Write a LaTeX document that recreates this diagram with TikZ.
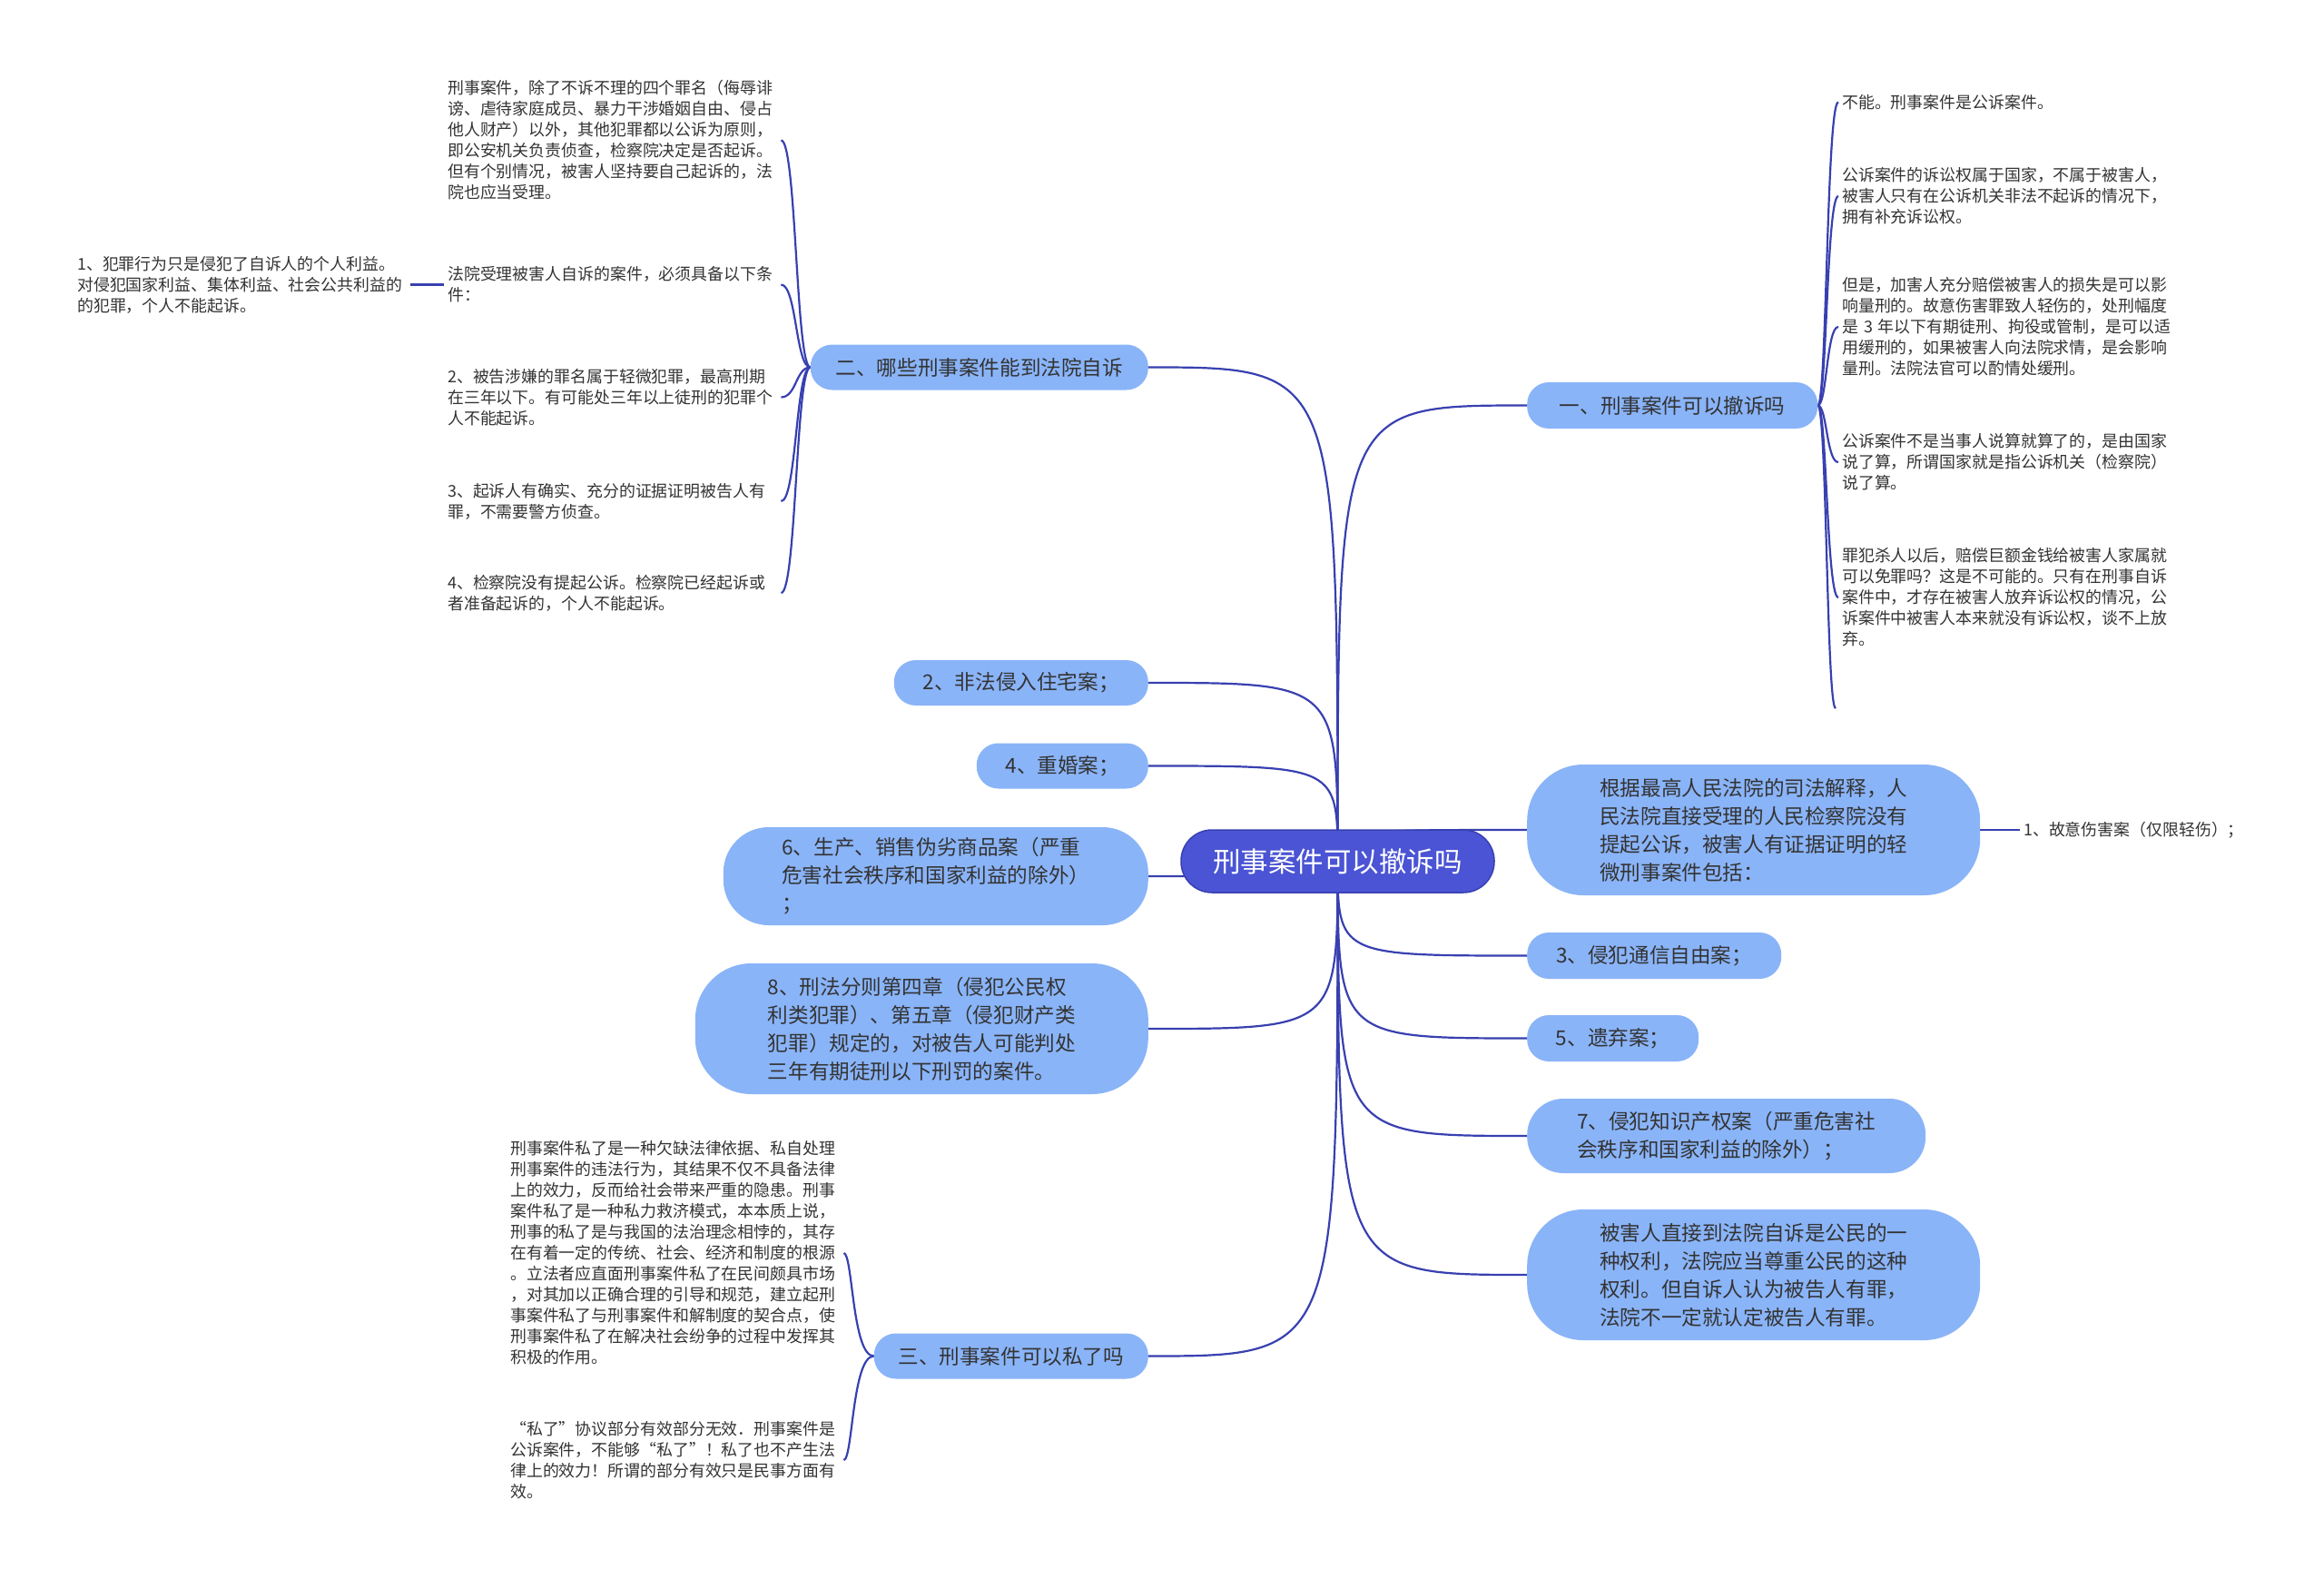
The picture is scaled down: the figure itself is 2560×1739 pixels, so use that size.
\documentclass[tikz,border=0pt]{standalone}
\usepackage{fontspec}
\setmainfont{Noto Sans CJK SC}
\usepackage{xcolor}
\usepackage{tikz}
\usetikzlibrary{backgrounds}
\definecolor{rootblue}{RGB}{74, 84, 212}
\definecolor{linkblue}{RGB}{56, 64, 176}
\definecolor{topicblue}{RGB}{138, 180, 248}
\definecolor{textgray}{RGB}{51, 51, 51}

\begin{document}
\begin{tikzpicture}[x=1pt, y=-1pt]
    % Styles
    \tikzstyle{root} = [rectangle, draw=linkblue, line width=1.5pt, fill=rootblue, text=white, rounded corners=34pt, minimum width=345pt, minimum height=69pt, font=\fontsize{30.5}{36}\selectfont]
    \tikzstyle{topic} = [rectangle, fill=topicblue, text=textgray, rounded corners=24pt, minimum height=50pt, align=left, font=\fontsize{22.6}{31}\selectfont]
    \tikzstyle{leaf} = [text=textgray, align=left, inner xsep=4pt, inner ysep=0pt, text width=363pt, font=\fontsize{17.9}{23}\selectfont]
    \tikzstyle{link} = [line width=2.2pt, linkblue]

    \useasboundingbox (0,0) rectangle (2560,1739);

    % Nodes
    \node [root] (root) at (1473.5,948.5) {刑事案件可以撤诉吗};

    \node [topic, anchor=east, minimum width=372pt] (n2) at (1265,404.5) {二、哪些刑事案件能到法院自诉};
    \node [topic, anchor=east, minimum width=280pt] (a2) at (1265,752) {2、非法侵入住宅案；};
    \node [topic, anchor=east, minimum width=189pt] (a4) at (1265,843.5) {4、重婚案；};
    \node [topic, anchor=east, minimum width=468pt, minimum height=108pt, rounded corners=50pt] (a6) at (1265,965) {6、生产、销售伪劣商品案（严重\\危害社会秩序和国家利益的除外）\\；};
    \node [topic, anchor=east, minimum width=499pt, minimum height=144pt, rounded corners=62pt] (a8) at (1265,1133) {8、刑法分则第四章（侵犯公民权\\利类犯罪）、第五章（侵犯财产类\\犯罪）规定的，对被告人可能判处\\三年有期徒刑以下刑罚的案件。};
    \node [topic, anchor=east, minimum width=302pt] (n3) at (1265,1493.5) {三、刑事案件可以私了吗};

    \node [topic, anchor=west, minimum width=320pt, minimum height=51pt] (n1) at (1682,446.5) {一、刑事案件可以撤诉吗};
    \node [topic, anchor=west, minimum width=499pt, minimum height=144pt, rounded corners=62pt] (b0) at (1682,914) {根据最高人民法院的司法解释，人\\民法院直接受理的人民检察院没有\\提起公诉，被害人有证据证明的轻\\微刑事案件包括：};
    \node [topic, anchor=west, minimum width=280pt, minimum height=51pt] (a3) at (1682,1052.5) {3、侵犯通信自由案；};
    \node [topic, anchor=west, minimum width=189pt, minimum height=51pt] (a5) at (1682,1143.5) {5、遗弃案；};
    \node [topic, anchor=west, minimum width=439pt, minimum height=82pt, rounded corners=40pt] (a7) at (1682,1251) {7、侵犯知识产权案（严重危害社\\会秩序和国家利益的除外）；};
    \node [topic, anchor=west, minimum width=499pt, minimum height=144pt, rounded corners=62pt] (b9) at (1682,1404) {被害人直接到法院自诉是公民的一\\种权利，法院应当尊重公民的这种\\权利。但自诉人认为被告人有罪，\\法院不一定就认定被告人有罪。};

    % Left leaves
    \node [leaf, anchor=west] (l1) at (489,154.5) {刑事案件，除了不诉不理的四个罪名（侮辱诽\\谤、虐待家庭成员、暴力干涉婚姻自由、侵占\\他人财产）以外，其他犯罪都以公诉为原则，\\即公安机关负责侦查，检察院决定是否起诉。\\但有个别情况，被害人坚持要自己起诉的，法\\院也应当受理。};
    \node [leaf, anchor=west] (l2) at (489,313.5) {法院受理被害人自诉的案件，必须具备以下条\\件：};
    \node [leaf, anchor=west] (l2a) at (81,313.5) {1、犯罪行为只是侵犯了自诉人的个人利益。\\对侵犯国家利益、集体利益、社会公共利益的\\的犯罪，个人不能起诉。};
    \node [leaf, anchor=west] (l3) at (489,437.5) {2、被告涉嫌的罪名属于轻微犯罪，最高刑期\\在三年以下。有可能处三年以上徒刑的犯罪个\\人不能起诉。};
    \node [leaf, anchor=west] (l4) at (489,552) {3、起诉人有确实、充分的证据证明被告人有\\罪，不需要警方侦查。};
    \node [leaf, anchor=west] (l5) at (489,653) {4、检察院没有提起公诉。检察院已经起诉或\\者准备起诉的，个人不能起诉。};

    % Right leaves
    \node [leaf, anchor=west] (r1) at (2025,112.5) {不能。刑事案件是公诉案件。};
    \node [leaf, anchor=west] (r2) at (2025,216) {公诉案件的诉讼权属于国家，不属于被害人，\\被害人只有在公诉机关非法不起诉的情况下，\\拥有补充诉讼权。};
    \node [leaf, anchor=west] (r3) at (2025,360) {但是，加害人充分赔偿被害人的损失是可以影\\响量刑的。故意伤害罪致人轻伤的，处刑幅度\\是 3 年以下有期徒刑、拘役或管制，是可以适\\用缓刑的，如果被害人向法院求情，是会影响\\量刑。法院法官可以酌情处缓刑。};
    \node [leaf, anchor=west] (r4) at (2025,509) {公诉案件不是当事人说算就算了的，是由国家\\说了算，所谓国家就是指公诉机关（检察院）\\说了算。};
    \node [leaf, anchor=west] (r5) at (2025,658) {罪犯杀人以后，赔偿巨额金钱给被害人家属就\\可以免罪吗？这是不可能的。只有在刑事自诉\\案件中，才存在被害人放弃诉讼权的情况，公\\诉案件中被害人本来就没有诉讼权，谈不上放\\弃。};
    \coordinate (r6) at (2022,780);
    \node [leaf, anchor=west, text width=250pt] (b0a) at (2225,914) {1、故意伤害案（仅限轻伤）；};

    % Bottom leaves
    \node [leaf, anchor=west] (s1) at (558,1380) {刑事案件私了是一种欠缺法律依据、私自处理\\刑事案件的违法行为，其结果不仅不具备法律\\上的效力，反而给社会带来严重的隐患。刑事\\案件私了是一种私力救济模式，本本质上说，\\刑事的私了是与我国的法治理念相悖的，其存\\在有着一定的传统、社会、经济和制度的根源\\。立法者应直面刑事案件私了在民间颇具市场\\，对其加以正确合理的引导和规范，建立起刑\\事案件私了与刑事案件和解制度的契合点，使\\刑事案件私了在解决社会纷争的过程中发挥其\\积极的作用。};
    \node [leaf, anchor=west] (s2) at (558,1608) {“私了”协议部分有效部分无效．刑事案件是\\公诉案件，不能够“私了”！私了也不产生法\\律上的效力！所谓的部分有效只是民事方面有\\效。};

    % Arrows
    \begin{scope}[on background layer]
        \fill [white] (0,0) rectangle (2560,1739);
        \foreach \t in {n2, a2, a4, a6, a8, n3}
            \draw [link] (root.center) .. controls (root.center |- \t.east) .. (\t.east);
        \foreach \t in {n1, b0, a3, a5, a7, b9}
            \draw [link] (root.center) .. controls (root.center |- \t.west) .. (\t.west);
        \foreach \t in {l1, l2, l3, l4, l5}
            \draw [link] (n2.west) .. controls +(-16,0) and +(17,0) .. (\t.east);
        \draw [link] (l2.west) -- (l2a.east);
        \foreach \t in {r1, r2, r3, r4, r5}
            \draw [link] (n1.east) .. controls +(10,0) and +(-13,0) .. (\t.west);
        \draw [link] (n1.east) .. controls +(10,0) and +(-10,0) .. (r6);
        \draw [link] (b0.east) -- (b0a.west);
        \foreach \t in {s1, s2}
            \draw [link] (n3.west) .. controls +(-24,0) and +(10,0) .. (\t.east);
    \end{scope}
\end{tikzpicture}
\end{document}
